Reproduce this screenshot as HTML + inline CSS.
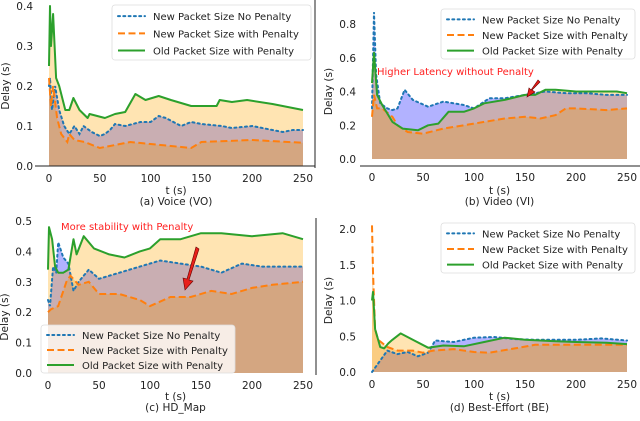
<!DOCTYPE html>
<html><head><meta charset="utf-8"><style>
body{margin:0;background:#fff;}
svg{display:block;font-family:"DejaVu Sans","Liberation Sans",sans-serif;}
</style></head><body>
<svg id="fig" width="640" height="421" viewBox="0 0 640 421"></svg>
<script>
// ---- data (t seconds, delay seconds) ----
const aBlue=[[0,0.2],[1,0.22],[3,0.14],[6,0.2],[10,0.14],[15,0.1],[20,0.08],[25,0.1],[30,0.08],[34,0.1],[42,0.085],[50,0.075],[55,0.08],[60,0.09],[65,0.105],[75,0.1],[90,0.11],[100,0.11],[108,0.125],[115,0.12],[130,0.1],[140,0.11],[150,0.105],[170,0.1],[180,0.095],[200,0.1],[230,0.085],[240,0.09],[250,0.09]];
const aOrange=[[0,0.22],[2,0.15],[4,0.2],[8,0.12],[12,0.08],[18,0.06],[20,0.08],[25,0.065],[35,0.06],[50,0.045],[60,0.05],[80,0.06],[100,0.055],[120,0.05],[140,0.045],[150,0.06],[200,0.065],[250,0.058]];
const aGreen=[[0,0.25],[1,0.4],[2,0.3],[4,0.38],[7,0.22],[10,0.2],[16,0.14],[20,0.14],[24,0.17],[30,0.14],[38,0.12],[40,0.13],[55,0.12],[65,0.13],[75,0.135],[85,0.18],[95,0.165],[108,0.175],[120,0.165],[140,0.15],[165,0.15],[168,0.165],[180,0.16],[195,0.165],[220,0.155],[240,0.145],[250,0.14]];
const bBlue=[[0,0.3],[2,0.87],[4,0.5],[8,0.33],[15,0.3],[20,0.29],[25,0.3],[32,0.41],[40,0.35],[55,0.31],[70,0.34],[90,0.32],[100,0.3],[115,0.36],[130,0.36],[150,0.38],[170,0.4],[190,0.39],[210,0.39],[230,0.38],[250,0.38]];
const bOrange=[[0,0.25],[2,0.38],[5,0.3],[10,0.3],[20,0.25],[25,0.2],[35,0.16],[50,0.15],[70,0.18],[90,0.2],[110,0.22],[130,0.24],[150,0.25],[165,0.24],[180,0.26],[190,0.3],[200,0.3],[230,0.29],[250,0.3]];
const bGreen=[[0,0.45],[2,0.63],[5,0.38],[10,0.32],[20,0.22],[30,0.18],[45,0.17],[55,0.2],[65,0.21],[75,0.28],[90,0.28],[100,0.3],[110,0.33],[130,0.35],[150,0.38],[160,0.38],[170,0.41],[180,0.41],[200,0.4],[220,0.4],[240,0.4],[250,0.39]];
const cBlue=[[0,0.24],[2,0.22],[5,0.35],[8,0.33],[10,0.43],[15,0.38],[20,0.36],[25,0.27],[30,0.3],[40,0.34],[50,0.31],[70,0.33],[90,0.35],[110,0.37],[130,0.36],[150,0.35],[170,0.33],[190,0.36],[210,0.35],[250,0.35]];
const cOrange=[[0,0.2],[3,0.21],[10,0.22],[18,0.3],[22,0.32],[30,0.29],[40,0.3],[50,0.26],[70,0.26],[90,0.24],[100,0.22],[120,0.25],[140,0.25],[160,0.27],[180,0.26],[200,0.28],[220,0.29],[250,0.3]];
const cGreen=[[0,0.34],[1,0.48],[4,0.44],[7,0.35],[10,0.33],[15,0.33],[20,0.34],[25,0.44],[28,0.39],[35,0.45],[45,0.41],[60,0.39],[75,0.38],[90,0.4],[100,0.41],[110,0.44],[130,0.44],[150,0.46],[170,0.46],[200,0.45],[230,0.46],[250,0.44]];
const dBlue=[[0,0],[5,0.1],[15,0.3],[25,0.25],[35,0.28],[45,0.22],[55,0.27],[62,0.44],[80,0.42],[100,0.48],[120,0.49],[140,0.46],[160,0.45],[200,0.45],[225,0.47],[250,0.44]];
const dOrange=[[0,2.05],[1,1.4],[3,0.6],[6,0.45],[15,0.35],[25,0.3],[40,0.3],[50,0.27],[60,0.3],[80,0.32],[100,0.28],[115,0.27],[140,0.33],[160,0.38],[200,0.38],[250,0.38]];
const dGreen=[[0,1.0],[1,1.12],[3,0.6],[8,0.35],[12,0.33],[16,0.4],[20,0.45],[28,0.54],[40,0.45],[55,0.34],[70,0.37],[90,0.36],[110,0.42],[130,0.48],[150,0.45],[180,0.43],[200,0.42],[230,0.41],[250,0.39]];
const xTicks=[0,50,100,150,200,250];
const aYTicks=[0,0.1,0.2,0.3,0.4];
const bYTicks=[0,0.2,0.4,0.6,0.8];
const cYTicks=[0,0.1,0.2,0.3,0.4,0.5];
const dYTicks=[0,0.5,1.0,1.5,2.0];
const legendLabels=["New Packet Size No Penalty","New Packet Size with Penalty","Old Packet Size with Penalty"];

const NS="http://www.w3.org/2000/svg";
const svg=document.getElementById('fig');
function mk(tag,attrs,parent){const e=document.createElementNS(NS,tag);for(const k in attrs)e.setAttribute(k,attrs[k]);(parent||svg).appendChild(e);return e;}

const panels=[
 {id:'a',blue:aBlue,orange:aOrange,green:aGreen,yt:aYTicks,x0:49,x1:303,y0:166,vmax:0.4,ytop:6,dec:1,cap:"(a) Voice (VO)",leg:[112,5,199,55],spine:[35,315,166],vline:[315,0,168]},
 {id:'b',blue:bBlue,orange:bOrange,green:bGreen,yt:bYTicks,x0:372,x1:627,y0:159,vmax:0.8,ytop:24,dec:1,cap:"(b) Video (VI)",leg:[441,9,194,50],spine:[360,640,166]},
 {id:'c',blue:cBlue,orange:cOrange,green:cGreen,yt:cYTicks,x0:48,x1:303,y0:373,vmax:0.5,ytop:221,dec:1,cap:"(c) HD_Map",leg:[41,325,194,48],vline:[316,218,375]},
 {id:'d',blue:dBlue,orange:dOrange,green:dGreen,yt:dYTicks,x0:372,x1:627,y0:372,vmax:2.0,ytop:229,dec:1,cap:"(d) Best-Effort (BE)",leg:[441,223,194,50]}
];

panels.forEach(p=>{
 const g=mk('g',{});
 
 
 const X=t=>p.x0+(p.x1-p.x0)*t/250;
 const Y=v=>p.y0-(p.y0-p.ytop)*v/p.vmax;
 const line=d=>d.map((q,i)=>(i?'L':'M')+X(q[0]).toFixed(1)+','+Y(q[1]).toFixed(1)).join(' ');
 const area=d=>line(d)+' L'+X(d[d.length-1][0])+','+Y(0)+' L'+X(d[0][0])+','+Y(0)+' Z';
 const fb=mk('path',{d:area(p.blue),fill:'rgba(0,0,255,0.3)'},g);
 
 const fg=mk('path',{d:area(p.green),fill:'rgba(255,165,0,0.3)'},g);
 
 const fo=mk('path',{d:area(p.orange),fill:'rgba(240,150,15,0.3)'},g);
 
 const lb=mk('path',{d:line(p.blue),fill:'none',stroke:'#1f77b4','stroke-width':2,'stroke-dasharray':'2,3.3','stroke-linecap':'round'},g);
 
 const lo=mk('path',{d:line(p.orange),fill:'none',stroke:'#ff7f0e','stroke-width':2,'stroke-dasharray':'7,3.5'},g);
 
 const lg=mk('path',{d:line(p.green),fill:'none',stroke:'#2ca02c','stroke-width':2,'stroke-linejoin':'round'},g);
 
 p.yt.forEach(v=>{
  const t=mk('text',{x:p.x0-16,y:Y(v)+4,'text-anchor':'end','font-size':10.5,fill:'#222'},g);
  t.textContent=v.toFixed(p.dec);
  
 });
 xTicks.forEach(v=>{
  const t=mk('text',{x:X(v),y:p.y0+(p.id==='b'?22:16),'text-anchor':'middle','font-size':10.5,fill:'#222'},g);
  t.textContent=v;
  
 });
 const cx=(p.x0+p.x1)/2;
 const base=p.id==='a'||p.id==='b'?166:372;
 const xl=mk('text',{x:cx,y:base+28,'text-anchor':'middle','font-size':10.5,fill:'#222'},g);
 xl.textContent='t (s)';
 const cp=mk('text',{x:cx,y:base+39,'text-anchor':'middle','font-size':10.5,fill:'#222'},g);
 cp.textContent=p.cap;
 const ymid=(p.y0+p.ytop)/2+(p.id==='c'?20:0);
 const yl=mk('text',{x:0,y:0,'text-anchor':'middle','font-size':10.5,fill:'#222',transform:`translate(${p.x0-40},${ymid}) rotate(-90)`},g);
 yl.textContent='Delay (s)';
 if(p.spine){const s=mk('line',{x1:p.spine[0],x2:p.spine[1],y1:p.spine[2],y2:p.spine[2],stroke:'#222','stroke-width':1},g);
  }
 if(p.vline){const s=mk('line',{x1:p.vline[0],x2:p.vline[0],y1:p.vline[1],y2:p.vline[2],stroke:'#222','stroke-width':1},g);
  }
 const L=p.leg;
 const lgd=mk('g',{},g);
 
 mk('rect',{x:L[0],y:L[1],width:L[2],height:L[3],rx:3,fill:'rgba(255,255,255,0.8)',stroke:'#ddd','stroke-width':0.8},lgd);
 const styles=[{stroke:'#1f77b4','stroke-dasharray':'2,3.3','stroke-linecap':'round'},{stroke:'#ff7f0e','stroke-dasharray':'7,3.5'},{stroke:'#2ca02c'}];
 legendLabels.forEach((lab,i)=>{
  const yy=L[1]+L[3]/6+i*L[3]/3.2+2;
  const e=mk('g',{},lgd);
  
  const a=Object.assign({x1:L[0]+6,x2:L[0]+33,y1:yy,y2:yy,'stroke-width':2},styles[i]);
  mk('line',a,e);
  const t=mk('text',{x:L[0]+41,y:yy+4,'font-size':10,fill:'#222'},e);
  t.textContent=lab;
 });
});

const a1=mk('text',{x:377,y:75,'font-size':10,fill:'#ff2020'});
a1.textContent='Higher Latency without Penalty';

const ar1=mk('path',{d:'M540,82 L532,90 L535,92 L527,97 L529,88 L531,90 L538,80 Z',fill:'#e8201a',stroke:'#600','stroke-width':0.6});

const a2=mk('text',{x:61,y:230,'font-size':10,fill:'#ff2020'});
a2.textContent='More stability with Penalty';

const ar2=mk('path',{d:'M196,247 L199,249 L189,280 L193,281 L185,290 L183,278 L187,279 Z',fill:'#e8201a',stroke:'#600','stroke-width':0.6});

</script>
</body></html>
